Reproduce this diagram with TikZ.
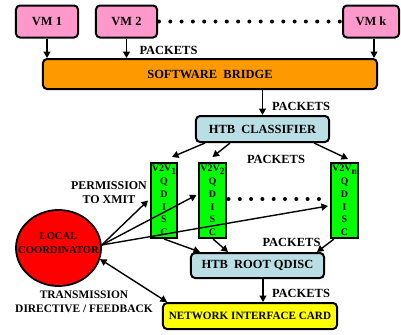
\documentclass[tikz,border=0pt]{standalone}
\usepackage{fontspec}
\setmainfont{Liberation Serif}
\usetikzlibrary{calc,arrows.meta,shapes.geometric}
\definecolor{vmpink}{HTML}{FF99CC}
\definecolor{bridgeorange}{HTML}{FF9900}
\definecolor{htbblue}{HTML}{B9DFE5}
\definecolor{qgreen}{HTML}{00FF00}
\definecolor{lcred}{HTML}{FF0000}
\definecolor{nicyellow}{HTML}{FFFF00}
\begin{document}
\begin{tikzpicture}[x=1bp,y=-1bp,
  box/.style={draw=black,line width=2bp,rounded corners=4bp,inner sep=0pt,
    font=\bfseries\fontsize{12.5}{14}\selectfont},
  qbox/.style={draw=black,line width=2bp,fill=qgreen,minimum width=26bp,
    minimum height=75bp,inner sep=0pt,align=center,
    font=\bfseries\fontsize{10}{12.8}\selectfont},
  arr/.style={-{Triangle[length=6.5bp,width=7bp]},line width=1.4bp},
  darr/.style={{Triangle[length=6.5bp,width=7bp]}-{Triangle[length=6.5bp,width=7bp]},line width=1.4bp},
  lbl/.style={inner sep=0pt,font=\bfseries\fontsize{12.5}{14}\selectfont},
  dotrow/.style={line width=4bp,line cap=round,dash pattern=on 0bp off 11.3bp}
]
\useasboundingbox (0,0) rectangle (401,335);

% virtual machines
\node[box,fill=vmpink,minimum width=62bp,minimum height=32bp] (vm1) at (47,21.5) {VM 1};
\node[box,fill=vmpink,minimum width=61bp,minimum height=32bp] (vm2) at (126.5,21.5) {VM 2};
\node[box,fill=vmpink,minimum width=56bp,minimum height=32bp] (vmk) at (371,21.5) {VM k};

% bridge and classifier
\node[box,fill=bridgeorange,minimum width=334bp,minimum height=30bp] (br) at (210,74) {SOFTWARE\ \ BRIDGE};
\node[box,fill=htbblue,minimum width=133bp,minimum height=26bp] (cls) at (262.5,129) {HTB\ \ CLASSIFIER};

% per-flow queueing disciplines
\node[qbox] (q1) at (164,200.5) {V2V\raisebox{-2.5bp}{\fontsize{9.5}{9.5}\selectfont 1}\\Q\\D\\I\\S\\C};
\node[qbox,minimum width=27bp] (q2) at (212.5,200.5) {V2V\raisebox{-2.5bp}{\fontsize{9.5}{9.5}\selectfont 2}\\Q\\D\\I\\S\\C};
\node[qbox,minimum width=27bp] (qn) at (344.5,200.5) {V2V\raisebox{-2.5bp}{\fontsize{9.5}{9.5}\selectfont n}\\Q\\D\\I\\S\\C};

% root qdisc and NIC
\node[box,fill=htbblue,minimum width=133bp,minimum height=25bp] (root) at (257.5,265.5) {HTB\ \ ROOT QDISC};
\node[box,fill=nicyellow,minimum width=174bp,minimum height=26bp,
  font=\bfseries\fontsize{11.2}{13}\selectfont] (nic) at (250,316) {NETWORK INTERFACE CARD};

% local coordinator
\node[ellipse,draw=black,line width=1.8bp,fill=lcred,minimum width=85bp,
  minimum height=76bp,inner sep=0pt] (lc) at (58.5,248) {};
\node[align=center,inner sep=0pt,font=\bfseries\fontsize{10.6}{14}\selectfont] (lct) at (58.5,243.5) {LOCAL\\COORDINATOR};

% labels
\node[lbl] (p1) at (168.5,50) {PACKETS};
\node[lbl] (p2) at (301,106) {PACKETS};
\node[lbl] (p3) at (276,159) {PACKETS};
\node[lbl] (p4) at (291.5,242) {PACKETS};
\node[lbl] (p5) at (301,293) {PACKETS};
\node[lbl,align=center,font=\bfseries\fontsize{12}{14}\selectfont] (perm) at (109,193) {PERMISSION\\TO XMIT};
\node[lbl,align=center,font=\bfseries\fontsize{11.5}{14}\selectfont] (trans) at (84,302) {TRANSMISSION\\DIRECTIVE / FEEDBACK};

% dotted continuation rows
\draw[dotrow] ([xshift=1bp]vm2.east) -- ([xshift=-1bp]vmk.west);
\draw[dotrow] ([xshift=1.5bp,yshift=1.5bp]q2.east) -- ([xshift=-1.5bp,yshift=1.5bp]qn.west);

% packet path
\draw[arr] (vm1.south) -- (vm1.south |- br.north);
\draw[arr] (vm2.south) -- (vm2.south |- br.north);
\draw[arr] ([xshift=3bp]vmk.south) -- ([xshift=3bp]vmk.south |- br.north);
\draw[arr] (cls.north |- br.south) -- (cls.north);
\draw[arr] ([xshift=10bp]cls.south west) -- ([xshift=-6bp,yshift=5bp]q1.north east);
\draw[arr] ([xshift=35bp]cls.south west) -- ([xshift=0bp,yshift=5bp]q2.north);
\draw[arr] ([xshift=-16bp]cls.south east) -- ([xshift=3.5bp,yshift=3bp]qn.north);
\draw[arr] ([xshift=0bp]q1.south) -- ([xshift=10bp]root.north west);
\draw[arr] ([xshift=0.5bp]q2.south) -- ([xshift=38bp]root.north west);
\draw[arr] ([xshift=4bp]qn.south west) -- ([xshift=-8bp]root.north east);
\draw[arr] ([xshift=5.5bp]root.south) -- ([xshift=5.5bp]root.south |- nic.north);

% coordinator control paths
\draw[arr] (lc.4) -- ([xshift=-2bp]q1.west);
\draw[arr] (lc.4) -- ([xshift=-1.5bp,yshift=5.5bp]q2.west);
\draw[arr] (lc.4) -- ([xshift=-2bp,yshift=-5.5bp]qn.west);
\draw[darr] (lc.-15) -- ([xshift=5bp]nic.north west);
\end{tikzpicture}
\end{document}
